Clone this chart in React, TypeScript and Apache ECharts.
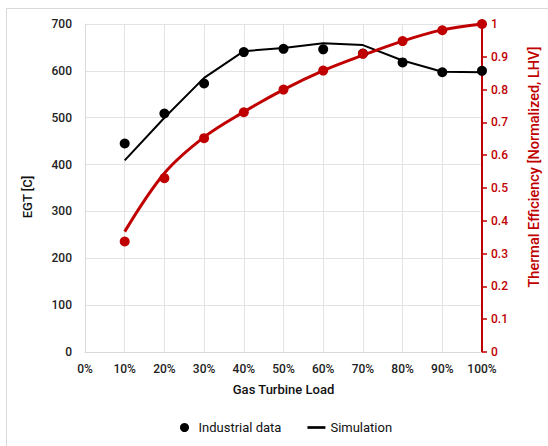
import React, { useEffect, useRef } from "react";
import * as echarts from "echarts";

// Gas turbine load (%)
const loads = [10, 20, 30, 40, 50, 60, 70, 80, 90, 100];

// Exhaust gas temperature [C]
const egtIndustrial = [445, 509, 573, 640, 647, 646, 637, 618, 597, 600];
const egtSimulation = [409, 500, 585, 642, 649, 659, 655, 622, 598, 597];

// Thermal efficiency, normalized (LHV)
const effIndustrial = [0.337, 0.53, 0.652, 0.731, 0.8, 0.858, 0.909, 0.948, 0.981, 1.0];
const effSimulation = [0.367, 0.545, 0.655, 0.732, 0.8, 0.858, 0.905, 0.948, 0.982, 1.0];

const RED = "#c00000";
const FONT = "Roboto";

const pairs = (ys: number[]) => loads.map((x, i) => [x, ys[i]]);

export default function App() {
  const ref = useRef<HTMLDivElement>(null);

  useEffect(() => {
    if (!ref.current) return;
    const chart = echarts.init(ref.current, undefined, { renderer: "svg" });
    chart.setOption({
      animation: false,
      backgroundColor: "#ffffff",
      textStyle: { fontFamily: FONT },
      grid: { left: 85, right: 66, top: 24, bottom: 94 },
      legend: {
        data: [
          { name: "Industrial data", icon: "circle" },
          { name: "Simulation", icon: "path://M0,0 L20,0 L20,3 L0,3 Z" },
        ],
        left: 175,
        top: 416,
        itemGap: 26,
        itemWidth: 18,
        itemHeight: 9,
        textStyle: { fontFamily: FONT, fontSize: 13, color: "#111" },
      },
      graphic: [
        { type: "line", shape: { x1: 6, y1: 8.5, x2: 548, y2: 8.5 }, style: { stroke: "#d9d9d9", lineWidth: 1 } },
        { type: "line", shape: { x1: 6.5, y1: 8, x2: 6.5, y2: 446 }, style: { stroke: "#d9d9d9", lineWidth: 1 } },
        {
          type: "text",
          x: 27,
          y: 197,
          rotation: Math.PI / 2,
          style: {
            text: "EGT [C]",
            fontFamily: FONT,
            fontSize: 13,
            fontWeight: 500,
            fill: "#111",
            align: "center",
            verticalAlign: "middle",
          },
        },
        {
          type: "text",
          x: 534,
          y: 167,
          rotation: Math.PI / 2,
          style: {
            text: "Thermal Efficiency [Normalized, LHV]",
            fontFamily: FONT,
            fontSize: 14.5,
            fontWeight: 500,
            fill: RED,
            align: "center",
            verticalAlign: "middle",
          },
        },
      ],
      xAxis: {
        type: "value",
        min: 0,
        max: 100,
        interval: 10,
        name: "Gas Turbine Load",
        nameLocation: "middle",
        nameGap: 31,
        nameTextStyle: { fontFamily: FONT, fontSize: 13, fontWeight: 500, color: "#111" },
        axisLine: { show: true, lineStyle: { color: "#d9d9d9", width: 1 } },
        axisTick: { show: false },
        axisLabel: {
          formatter: (v: number) => `${v}%`,
          margin: 11,
          fontFamily: FONT,
          fontSize: 12,
          fontWeight: 500,
          color: "#222",
        },
        splitLine: { show: true, lineStyle: { color: "#e3e3e3", width: 1 } },
      },
      yAxis: [
        {
          type: "value",
          min: 0,
          max: 700,
          interval: 100,
          position: "left",
          axisLine: { show: true, lineStyle: { color: "#d9d9d9", width: 1 } },
          axisTick: { show: false },
          axisLabel: {
            margin: 13,
            fontFamily: FONT,
            fontSize: 12,
            fontWeight: 500,
            color: "#222",
          },
          splitLine: { show: true, lineStyle: { color: "#e3e3e3", width: 1 } },
        },
        {
          type: "value",
          min: 0,
          max: 1,
          interval: 0.1,
          position: "right",
          axisLine: { show: true, lineStyle: { color: RED, width: 2 } },
          axisTick: { show: true, inside: false, length: 5, lineStyle: { color: RED, width: 1.5 } },
          axisLabel: {
            margin: 9,
            formatter: (v: number) => `${Math.round(v * 10) / 10}`,
            fontFamily: FONT,
            fontSize: 12,
            fontWeight: 500,
            color: RED,
          },
          splitLine: { show: false },
        },
      ],
      series: [
        {
          name: "Simulation",
          type: "line",
          yAxisIndex: 0,
          data: pairs(egtSimulation),
          symbol: "none",
          lineStyle: { color: "#000", width: 2 },
          itemStyle: { color: "#000" },
          z: 2,
        },
        {
          name: "Simulation",
          type: "line",
          yAxisIndex: 1,
          data: pairs(effSimulation),
          symbol: "none",
          smooth: 0.35,
          lineStyle: { color: RED, width: 3 },
          itemStyle: { color: RED },
          z: 2,
        },
        {
          name: "Industrial data",
          type: "scatter",
          yAxisIndex: 0,
          data: pairs(egtIndustrial),
          symbol: "circle",
          symbolSize: 10,
          itemStyle: { color: "#000", opacity: 1 },
          z: 3,
        },
        {
          name: "Industrial data",
          type: "scatter",
          yAxisIndex: 1,
          data: pairs(effIndustrial),
          symbol: "circle",
          symbolSize: 10,
          itemStyle: { color: RED, opacity: 1 },
          z: 3,
        },
      ],
    });
    return () => chart.dispose();
  }, []);

  return (
    <div
      ref={ref}
      style={{ position: "fixed", left: 0, top: 0, width: 548, height: 446 }}
    />
  );
}
